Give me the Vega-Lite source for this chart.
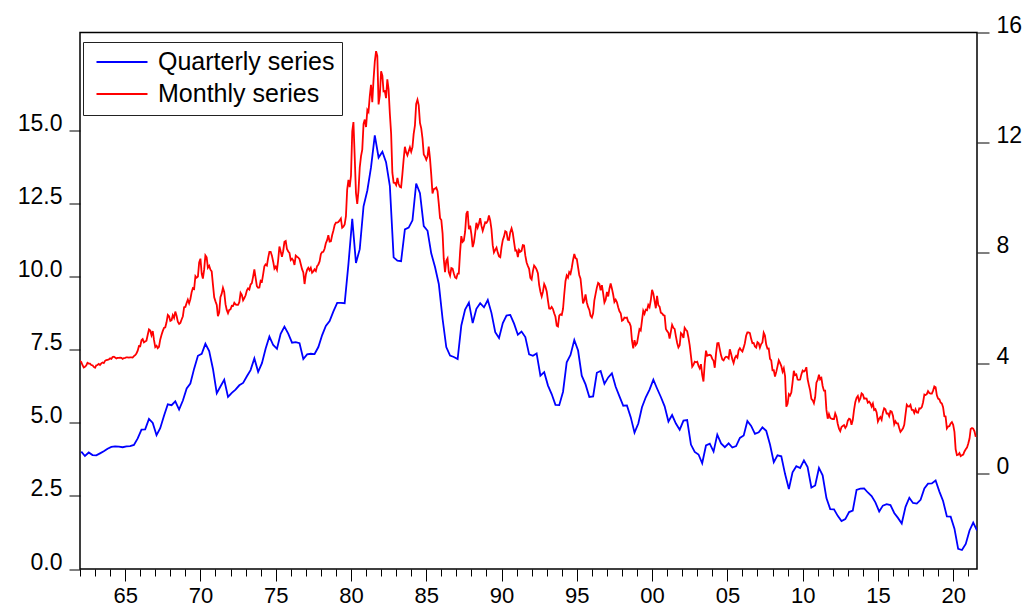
{
"$schema":"https://vega.github.io/schema/vega-lite/v6.json",
"width":897,"height":536.5,
"autosize":{"type":"none"},
"padding":{"left":80,"top":32.5,"right":50,"bottom":39},
"background":"white",
"config":{"view":{"stroke":"#000","strokeWidth":1.5},"font":"Liberation Sans",
"axis":{"labelFont":"Liberation Sans","labelColor":"#000","tickColor":"#000","domain":false,"grid":false,"labelFontSize":23,"title":null}},
"datasets":{
"quarterly":[
{"d":"1962-02","v":4.02},{"d":"1962-05","v":3.87},{"d":"1962-08","v":3.99},{"d":"1962-11","v":3.90},
{"d":"1963-02","v":3.89},{"d":"1963-05","v":3.96},{"d":"1963-08","v":4.03},{"d":"1963-11","v":4.12},
{"d":"1964-02","v":4.18},{"d":"1964-05","v":4.20},{"d":"1964-08","v":4.19},{"d":"1964-11","v":4.17},
{"d":"1965-02","v":4.20},{"d":"1965-05","v":4.21},{"d":"1965-08","v":4.25},{"d":"1965-11","v":4.47},
{"d":"1966-02","v":4.77},{"d":"1966-05","v":4.78},{"d":"1966-08","v":5.14},{"d":"1966-11","v":5.00},
{"d":"1967-02","v":4.58},{"d":"1967-05","v":4.82},{"d":"1967-08","v":5.25},{"d":"1967-11","v":5.64},
{"d":"1968-02","v":5.61},{"d":"1968-05","v":5.74},{"d":"1968-08","v":5.46},{"d":"1968-11","v":5.77},
{"d":"1969-02","v":6.18},{"d":"1969-05","v":6.35},{"d":"1969-08","v":6.86},{"d":"1969-11","v":7.30},
{"d":"1970-02","v":7.37},{"d":"1970-05","v":7.71},{"d":"1970-08","v":7.46},{"d":"1970-11","v":6.85},
{"d":"1971-02","v":6.02},{"d":"1971-05","v":6.25},{"d":"1971-08","v":6.48},{"d":"1971-11","v":5.89},
{"d":"1972-02","v":6.03},{"d":"1972-05","v":6.14},{"d":"1972-08","v":6.29},{"d":"1972-11","v":6.37},
{"d":"1973-02","v":6.60},{"d":"1973-05","v":6.81},{"d":"1973-08","v":7.21},{"d":"1973-11","v":6.75},
{"d":"1974-02","v":7.05},{"d":"1974-05","v":7.54},{"d":"1974-08","v":7.96},{"d":"1974-11","v":7.67},
{"d":"1975-02","v":7.54},{"d":"1975-05","v":8.05},{"d":"1975-08","v":8.30},{"d":"1975-11","v":8.06},
{"d":"1976-02","v":7.75},{"d":"1976-05","v":7.77},{"d":"1976-08","v":7.73},{"d":"1976-11","v":7.19},
{"d":"1977-02","v":7.35},{"d":"1977-05","v":7.37},{"d":"1977-08","v":7.36},{"d":"1977-11","v":7.60},
{"d":"1978-02","v":8.01},{"d":"1978-05","v":8.32},{"d":"1978-08","v":8.49},{"d":"1978-11","v":8.82},
{"d":"1979-02","v":9.11},{"d":"1979-05","v":9.11},{"d":"1979-08","v":9.10},{"d":"1979-11","v":10.45},
{"d":"1980-02","v":11.99},{"d":"1980-05","v":10.48},{"d":"1980-08","v":10.95},{"d":"1980-11","v":12.42},
{"d":"1981-02","v":12.96},{"d":"1981-05","v":13.75},{"d":"1981-08","v":14.85},{"d":"1981-11","v":14.09},
{"d":"1982-02","v":14.29},{"d":"1982-05","v":13.93},{"d":"1982-08","v":13.12},{"d":"1982-11","v":10.67},
{"d":"1983-02","v":10.56},{"d":"1983-05","v":10.54},{"d":"1983-08","v":11.63},{"d":"1983-11","v":11.69},
{"d":"1984-02","v":11.94},{"d":"1984-05","v":13.20},{"d":"1984-08","v":12.87},{"d":"1984-11","v":11.74},
{"d":"1985-02","v":11.58},{"d":"1985-05","v":10.81},{"d":"1985-08","v":10.34},{"d":"1985-11","v":9.76},
{"d":"1986-02","v":8.56},{"d":"1986-05","v":7.60},{"d":"1986-08","v":7.31},{"d":"1986-11","v":7.26},
{"d":"1987-02","v":7.19},{"d":"1987-05","v":8.34},{"d":"1987-08","v":8.88},{"d":"1987-11","v":9.12},
{"d":"1988-02","v":8.42},{"d":"1988-05","v":8.91},{"d":"1988-08","v":9.10},{"d":"1988-11","v":8.96},
{"d":"1989-02","v":9.21},{"d":"1989-05","v":8.77},{"d":"1989-08","v":8.11},{"d":"1989-11","v":7.91},
{"d":"1990-02","v":8.42},{"d":"1990-05","v":8.68},{"d":"1990-08","v":8.70},{"d":"1990-11","v":8.40},
{"d":"1991-02","v":8.02},{"d":"1991-05","v":8.13},{"d":"1991-08","v":7.94},{"d":"1991-11","v":7.35},
{"d":"1992-02","v":7.30},{"d":"1992-05","v":7.38},{"d":"1992-08","v":6.62},{"d":"1992-11","v":6.74},
{"d":"1993-02","v":6.28},{"d":"1993-05","v":5.99},{"d":"1993-08","v":5.62},{"d":"1993-11","v":5.61},
{"d":"1994-02","v":6.07},{"d":"1994-05","v":7.08},{"d":"1994-08","v":7.33},{"d":"1994-11","v":7.84},
{"d":"1995-02","v":7.48},{"d":"1995-05","v":6.62},{"d":"1995-08","v":6.32},{"d":"1995-11","v":5.89},
{"d":"1996-02","v":5.91},{"d":"1996-05","v":6.72},{"d":"1996-08","v":6.78},{"d":"1996-11","v":6.34},
{"d":"1997-02","v":6.56},{"d":"1997-05","v":6.70},{"d":"1997-08","v":6.24},{"d":"1997-11","v":5.91},
{"d":"1998-02","v":5.59},{"d":"1998-05","v":5.60},{"d":"1998-08","v":5.20},{"d":"1998-11","v":4.67},
{"d":"1999-02","v":4.98},{"d":"1999-05","v":5.54},{"d":"1999-08","v":5.88},{"d":"1999-11","v":6.14},
{"d":"2000-02","v":6.48},{"d":"2000-05","v":6.18},{"d":"2000-08","v":5.89},{"d":"2000-11","v":5.57},
{"d":"2001-02","v":5.05},{"d":"2001-05","v":5.27},{"d":"2001-08","v":4.98},{"d":"2001-11","v":4.77},
{"d":"2002-02","v":5.08},{"d":"2002-05","v":5.10},{"d":"2002-08","v":4.26},{"d":"2002-11","v":4.01},
{"d":"2003-02","v":3.92},{"d":"2003-05","v":3.62},{"d":"2003-08","v":4.23},{"d":"2003-11","v":4.29},
{"d":"2004-02","v":4.02},{"d":"2004-05","v":4.60},{"d":"2004-08","v":4.30},{"d":"2004-11","v":4.17},
{"d":"2005-02","v":4.30},{"d":"2005-05","v":4.16},{"d":"2005-08","v":4.21},{"d":"2005-11","v":4.49},
{"d":"2006-02","v":4.57},{"d":"2006-05","v":5.07},{"d":"2006-08","v":4.90},{"d":"2006-11","v":4.63},
{"d":"2007-02","v":4.68},{"d":"2007-05","v":4.85},{"d":"2007-08","v":4.73},{"d":"2007-11","v":4.26},
{"d":"2008-02","v":3.66},{"d":"2008-05","v":3.89},{"d":"2008-08","v":3.86},{"d":"2008-11","v":3.25},
{"d":"2009-02","v":2.74},{"d":"2009-05","v":3.31},{"d":"2009-08","v":3.52},{"d":"2009-11","v":3.46},
{"d":"2010-02","v":3.72},{"d":"2010-05","v":3.49},{"d":"2010-08","v":2.79},{"d":"2010-11","v":2.86},
{"d":"2011-02","v":3.46},{"d":"2011-05","v":3.21},{"d":"2011-08","v":2.43},{"d":"2011-11","v":2.05},
{"d":"2012-02","v":2.04},{"d":"2012-05","v":1.82},{"d":"2012-08","v":1.64},{"d":"2012-11","v":1.71},
{"d":"2013-02","v":1.95},{"d":"2013-05","v":2.00},{"d":"2013-08","v":2.71},{"d":"2013-11","v":2.75},
{"d":"2014-02","v":2.76},{"d":"2014-05","v":2.62},{"d":"2014-08","v":2.50},{"d":"2014-11","v":2.28},
{"d":"2015-02","v":1.97},{"d":"2015-05","v":2.17},{"d":"2015-08","v":2.22},{"d":"2015-11","v":2.19},
{"d":"2016-02","v":1.92},{"d":"2016-05","v":1.75},{"d":"2016-08","v":1.56},{"d":"2016-11","v":2.13},
{"d":"2017-02","v":2.44},{"d":"2017-05","v":2.26},{"d":"2017-08","v":2.24},{"d":"2017-11","v":2.37},
{"d":"2018-02","v":2.76},{"d":"2018-05","v":2.92},{"d":"2018-08","v":2.93},{"d":"2018-11","v":3.03},
{"d":"2019-02","v":2.65},{"d":"2019-05","v":2.33},{"d":"2019-08","v":1.80},{"d":"2019-11","v":1.79},
{"d":"2020-02","v":1.38},{"d":"2020-05","v":0.69},{"d":"2020-08","v":0.65},{"d":"2020-11","v":0.86},
{"d":"2021-02","v":1.32},{"d":"2021-05","v":1.59},{"d":"2021-08","v":1.32}
],
"monthly":[
{"d":"1962-01","v":4.08},{"d":"1962-02","v":4.04},{"d":"1962-03","v":3.93},{"d":"1962-04","v":3.84},{"d":"1962-05","v":3.87},{"d":"1962-06","v":3.91},{"d":"1962-07","v":4.01},{"d":"1962-08","v":3.98},{"d":"1962-09","v":3.98},{"d":"1962-10","v":3.93},{"d":"1962-11","v":3.92},{"d":"1962-12","v":3.86},
{"d":"1963-01","v":3.83},{"d":"1963-02","v":3.92},{"d":"1963-03","v":3.93},{"d":"1963-04","v":3.97},{"d":"1963-05","v":3.93},{"d":"1963-06","v":3.99},{"d":"1963-07","v":4.02},{"d":"1963-08","v":4.00},{"d":"1963-09","v":4.08},{"d":"1963-10","v":4.11},{"d":"1963-11","v":4.12},{"d":"1963-12","v":4.13},
{"d":"1964-01","v":4.17},{"d":"1964-02","v":4.15},{"d":"1964-03","v":4.22},{"d":"1964-04","v":4.23},{"d":"1964-05","v":4.20},{"d":"1964-06","v":4.17},{"d":"1964-07","v":4.19},{"d":"1964-08","v":4.19},{"d":"1964-09","v":4.20},{"d":"1964-10","v":4.19},{"d":"1964-11","v":4.15},{"d":"1964-12","v":4.18},
{"d":"1965-01","v":4.19},{"d":"1965-02","v":4.21},{"d":"1965-03","v":4.21},{"d":"1965-04","v":4.20},{"d":"1965-05","v":4.21},{"d":"1965-06","v":4.21},{"d":"1965-07","v":4.20},{"d":"1965-08","v":4.25},{"d":"1965-09","v":4.29},{"d":"1965-10","v":4.35},{"d":"1965-11","v":4.45},{"d":"1965-12","v":4.62},
{"d":"1966-01","v":4.61},{"d":"1966-02","v":4.83},{"d":"1966-03","v":4.87},{"d":"1966-04","v":4.75},{"d":"1966-05","v":4.78},{"d":"1966-06","v":4.81},{"d":"1966-07","v":5.02},{"d":"1966-08","v":5.22},{"d":"1966-09","v":5.18},{"d":"1966-10","v":5.01},{"d":"1966-11","v":5.16},{"d":"1966-12","v":4.84},
{"d":"1967-01","v":4.58},{"d":"1967-02","v":4.63},{"d":"1967-03","v":4.54},{"d":"1967-04","v":4.59},{"d":"1967-05","v":4.85},{"d":"1967-06","v":5.02},{"d":"1967-07","v":5.16},{"d":"1967-08","v":5.28},{"d":"1967-09","v":5.30},{"d":"1967-10","v":5.48},{"d":"1967-11","v":5.75},{"d":"1967-12","v":5.70},
{"d":"1968-01","v":5.53},{"d":"1968-02","v":5.56},{"d":"1968-03","v":5.74},{"d":"1968-04","v":5.64},{"d":"1968-05","v":5.87},{"d":"1968-06","v":5.72},{"d":"1968-07","v":5.50},{"d":"1968-08","v":5.42},{"d":"1968-09","v":5.46},{"d":"1968-10","v":5.58},{"d":"1968-11","v":5.70},{"d":"1968-12","v":6.03},
{"d":"1969-01","v":6.04},{"d":"1969-02","v":6.19},{"d":"1969-03","v":6.30},{"d":"1969-04","v":6.17},{"d":"1969-05","v":6.32},{"d":"1969-06","v":6.57},{"d":"1969-07","v":6.72},{"d":"1969-08","v":6.69},{"d":"1969-09","v":7.16},{"d":"1969-10","v":7.10},{"d":"1969-11","v":7.14},{"d":"1969-12","v":7.65},
{"d":"1970-01","v":7.79},{"d":"1970-02","v":7.24},{"d":"1970-03","v":7.07},{"d":"1970-04","v":7.39},{"d":"1970-05","v":7.91},{"d":"1970-06","v":7.84},{"d":"1970-07","v":7.46},{"d":"1970-08","v":7.53},{"d":"1970-09","v":7.39},{"d":"1970-10","v":7.33},{"d":"1970-11","v":6.84},{"d":"1970-12","v":6.39},
{"d":"1971-01","v":6.24},{"d":"1971-02","v":6.11},{"d":"1971-03","v":5.70},{"d":"1971-04","v":5.83},{"d":"1971-05","v":6.39},{"d":"1971-06","v":6.52},{"d":"1971-07","v":6.73},{"d":"1971-08","v":6.58},{"d":"1971-09","v":6.14},{"d":"1971-10","v":5.93},{"d":"1971-11","v":5.81},{"d":"1971-12","v":5.93},
{"d":"1972-01","v":5.95},{"d":"1972-02","v":6.08},{"d":"1972-03","v":6.07},{"d":"1972-04","v":6.19},{"d":"1972-05","v":6.13},{"d":"1972-06","v":6.11},{"d":"1972-07","v":6.11},{"d":"1972-08","v":6.21},{"d":"1972-09","v":6.55},{"d":"1972-10","v":6.48},{"d":"1972-11","v":6.28},{"d":"1972-12","v":6.36},
{"d":"1973-01","v":6.46},{"d":"1973-02","v":6.64},{"d":"1973-03","v":6.71},{"d":"1973-04","v":6.67},{"d":"1973-05","v":6.85},{"d":"1973-06","v":6.90},{"d":"1973-07","v":7.13},{"d":"1973-08","v":7.40},{"d":"1973-09","v":7.09},{"d":"1973-10","v":6.79},{"d":"1973-11","v":6.73},{"d":"1973-12","v":6.74},
{"d":"1974-01","v":6.99},{"d":"1974-02","v":6.96},{"d":"1974-03","v":7.21},{"d":"1974-04","v":7.51},{"d":"1974-05","v":7.58},{"d":"1974-06","v":7.54},{"d":"1974-07","v":7.81},{"d":"1974-08","v":8.04},{"d":"1974-09","v":8.04},{"d":"1974-10","v":7.90},{"d":"1974-11","v":7.68},{"d":"1974-12","v":7.43},
{"d":"1975-01","v":7.50},{"d":"1975-02","v":7.39},{"d":"1975-03","v":7.73},{"d":"1975-04","v":8.23},{"d":"1975-05","v":8.06},{"d":"1975-06","v":7.86},{"d":"1975-07","v":8.06},{"d":"1975-08","v":8.40},{"d":"1975-09","v":8.43},{"d":"1975-10","v":8.14},{"d":"1975-11","v":8.05},{"d":"1975-12","v":8.00},
{"d":"1976-01","v":7.74},{"d":"1976-02","v":7.79},{"d":"1976-03","v":7.73},{"d":"1976-04","v":7.56},{"d":"1976-05","v":7.90},{"d":"1976-06","v":7.86},{"d":"1976-07","v":7.83},{"d":"1976-08","v":7.77},{"d":"1976-09","v":7.59},{"d":"1976-10","v":7.41},{"d":"1976-11","v":7.29},{"d":"1976-12","v":6.87},
{"d":"1977-01","v":7.21},{"d":"1977-02","v":7.39},{"d":"1977-03","v":7.46},{"d":"1977-04","v":7.37},{"d":"1977-05","v":7.46},{"d":"1977-06","v":7.28},{"d":"1977-07","v":7.33},{"d":"1977-08","v":7.40},{"d":"1977-09","v":7.34},{"d":"1977-10","v":7.52},{"d":"1977-11","v":7.58},{"d":"1977-12","v":7.69},
{"d":"1978-01","v":7.96},{"d":"1978-02","v":8.03},{"d":"1978-03","v":8.04},{"d":"1978-04","v":8.15},{"d":"1978-05","v":8.35},{"d":"1978-06","v":8.46},{"d":"1978-07","v":8.64},{"d":"1978-08","v":8.41},{"d":"1978-09","v":8.42},{"d":"1978-10","v":8.64},{"d":"1978-11","v":8.81},{"d":"1978-12","v":9.01},
{"d":"1979-01","v":9.10},{"d":"1979-02","v":9.10},{"d":"1979-03","v":9.12},{"d":"1979-04","v":9.18},{"d":"1979-05","v":9.25},{"d":"1979-06","v":8.91},{"d":"1979-07","v":8.95},{"d":"1979-08","v":9.03},{"d":"1979-09","v":9.33},{"d":"1979-10","v":10.30},{"d":"1979-11","v":10.65},{"d":"1979-12","v":10.39},
{"d":"1980-01","v":10.80},{"d":"1980-02","v":12.41},{"d":"1980-03","v":12.75},{"d":"1980-04","v":11.47},{"d":"1980-05","v":10.18},{"d":"1980-06","v":9.78},{"d":"1980-07","v":10.25},{"d":"1980-08","v":11.10},{"d":"1980-09","v":11.51},{"d":"1980-10","v":11.75},{"d":"1980-11","v":12.68},{"d":"1980-12","v":12.84},
{"d":"1981-01","v":12.57},{"d":"1981-02","v":13.19},{"d":"1981-03","v":13.12},{"d":"1981-04","v":13.68},{"d":"1981-05","v":14.10},{"d":"1981-06","v":13.47},{"d":"1981-07","v":14.28},{"d":"1981-08","v":14.94},{"d":"1981-09","v":15.32},{"d":"1981-10","v":15.15},{"d":"1981-11","v":13.39},{"d":"1981-12","v":13.72},
{"d":"1982-01","v":14.59},{"d":"1982-02","v":14.43},{"d":"1982-03","v":13.86},{"d":"1982-04","v":13.87},{"d":"1982-05","v":13.62},{"d":"1982-06","v":14.30},{"d":"1982-07","v":13.95},{"d":"1982-08","v":13.06},{"d":"1982-09","v":12.34},{"d":"1982-10","v":10.91},{"d":"1982-11","v":10.55},{"d":"1982-12","v":10.54},
{"d":"1983-01","v":10.46},{"d":"1983-02","v":10.72},{"d":"1983-03","v":10.51},{"d":"1983-04","v":10.40},{"d":"1983-05","v":10.38},{"d":"1983-06","v":10.85},{"d":"1983-07","v":11.38},{"d":"1983-08","v":11.85},{"d":"1983-09","v":11.65},{"d":"1983-10","v":11.54},{"d":"1983-11","v":11.69},{"d":"1983-12","v":11.83},
{"d":"1984-01","v":11.67},{"d":"1984-02","v":11.84},{"d":"1984-03","v":12.32},{"d":"1984-04","v":12.63},{"d":"1984-05","v":13.41},{"d":"1984-06","v":13.56},{"d":"1984-07","v":13.36},{"d":"1984-08","v":12.72},{"d":"1984-09","v":12.52},{"d":"1984-10","v":12.16},{"d":"1984-11","v":11.57},{"d":"1984-12","v":11.50},
{"d":"1985-01","v":11.38},{"d":"1985-02","v":11.51},{"d":"1985-03","v":11.86},{"d":"1985-04","v":11.43},{"d":"1985-05","v":10.85},{"d":"1985-06","v":10.16},{"d":"1985-07","v":10.31},{"d":"1985-08","v":10.33},{"d":"1985-09","v":10.37},{"d":"1985-10","v":10.24},{"d":"1985-11","v":9.78},{"d":"1985-12","v":9.26},
{"d":"1986-01","v":9.19},{"d":"1986-02","v":8.70},{"d":"1986-03","v":7.78},{"d":"1986-04","v":7.30},{"d":"1986-05","v":7.71},{"d":"1986-06","v":7.80},{"d":"1986-07","v":7.30},{"d":"1986-08","v":7.17},{"d":"1986-09","v":7.45},{"d":"1986-10","v":7.43},{"d":"1986-11","v":7.25},{"d":"1986-12","v":7.11},
{"d":"1987-01","v":7.08},{"d":"1987-02","v":7.25},{"d":"1987-03","v":7.25},{"d":"1987-04","v":8.02},{"d":"1987-05","v":8.61},{"d":"1987-06","v":8.40},{"d":"1987-07","v":8.45},{"d":"1987-08","v":8.76},{"d":"1987-09","v":9.42},{"d":"1987-10","v":9.52},{"d":"1987-11","v":8.86},{"d":"1987-12","v":8.99},
{"d":"1988-01","v":8.67},{"d":"1988-02","v":8.21},{"d":"1988-03","v":8.37},{"d":"1988-04","v":8.72},{"d":"1988-05","v":9.09},{"d":"1988-06","v":8.92},{"d":"1988-07","v":9.06},{"d":"1988-08","v":9.26},{"d":"1988-09","v":8.98},{"d":"1988-10","v":8.80},{"d":"1988-11","v":8.96},{"d":"1988-12","v":9.11},
{"d":"1989-01","v":9.09},{"d":"1989-02","v":9.17},{"d":"1989-03","v":9.36},{"d":"1989-04","v":9.18},{"d":"1989-05","v":8.86},{"d":"1989-06","v":8.28},{"d":"1989-07","v":8.02},{"d":"1989-08","v":8.11},{"d":"1989-09","v":8.19},{"d":"1989-10","v":8.01},{"d":"1989-11","v":7.87},{"d":"1989-12","v":7.84},
{"d":"1990-01","v":8.21},{"d":"1990-02","v":8.47},{"d":"1990-03","v":8.59},{"d":"1990-04","v":8.79},{"d":"1990-05","v":8.76},{"d":"1990-06","v":8.48},{"d":"1990-07","v":8.47},{"d":"1990-08","v":8.75},{"d":"1990-09","v":8.89},{"d":"1990-10","v":8.72},{"d":"1990-11","v":8.39},{"d":"1990-12","v":8.08},
{"d":"1991-01","v":8.09},{"d":"1991-02","v":7.85},{"d":"1991-03","v":8.11},{"d":"1991-04","v":8.04},{"d":"1991-05","v":8.07},{"d":"1991-06","v":8.28},{"d":"1991-07","v":8.27},{"d":"1991-08","v":7.90},{"d":"1991-09","v":7.65},{"d":"1991-10","v":7.53},{"d":"1991-11","v":7.42},{"d":"1991-12","v":7.09},
{"d":"1992-01","v":7.03},{"d":"1992-02","v":7.34},{"d":"1992-03","v":7.54},{"d":"1992-04","v":7.48},{"d":"1992-05","v":7.39},{"d":"1992-06","v":7.26},{"d":"1992-07","v":6.84},{"d":"1992-08","v":6.59},{"d":"1992-09","v":6.42},{"d":"1992-10","v":6.59},{"d":"1992-11","v":6.87},{"d":"1992-12","v":6.77},
{"d":"1993-01","v":6.60},{"d":"1993-02","v":6.26},{"d":"1993-03","v":5.98},{"d":"1993-04","v":5.97},{"d":"1993-05","v":6.04},{"d":"1993-06","v":5.96},{"d":"1993-07","v":5.81},{"d":"1993-08","v":5.68},{"d":"1993-09","v":5.36},{"d":"1993-10","v":5.33},{"d":"1993-11","v":5.72},{"d":"1993-12","v":5.77},
{"d":"1994-01","v":5.75},{"d":"1994-02","v":5.97},{"d":"1994-03","v":6.48},{"d":"1994-04","v":6.97},{"d":"1994-05","v":7.18},{"d":"1994-06","v":7.10},{"d":"1994-07","v":7.30},{"d":"1994-08","v":7.24},{"d":"1994-09","v":7.46},{"d":"1994-10","v":7.74},{"d":"1994-11","v":7.96},{"d":"1994-12","v":7.81},
{"d":"1995-01","v":7.78},{"d":"1995-02","v":7.47},{"d":"1995-03","v":7.20},{"d":"1995-04","v":7.06},{"d":"1995-05","v":6.63},{"d":"1995-06","v":6.17},{"d":"1995-07","v":6.28},{"d":"1995-08","v":6.49},{"d":"1995-09","v":6.20},{"d":"1995-10","v":6.04},{"d":"1995-11","v":5.93},{"d":"1995-12","v":5.71},
{"d":"1996-01","v":5.65},{"d":"1996-02","v":5.81},{"d":"1996-03","v":6.27},{"d":"1996-04","v":6.51},{"d":"1996-05","v":6.74},{"d":"1996-06","v":6.91},{"d":"1996-07","v":6.87},{"d":"1996-08","v":6.64},{"d":"1996-09","v":6.83},{"d":"1996-10","v":6.53},{"d":"1996-11","v":6.20},{"d":"1996-12","v":6.30},
{"d":"1997-01","v":6.58},{"d":"1997-02","v":6.42},{"d":"1997-03","v":6.69},{"d":"1997-04","v":6.89},{"d":"1997-05","v":6.71},{"d":"1997-06","v":6.49},{"d":"1997-07","v":6.22},{"d":"1997-08","v":6.30},{"d":"1997-09","v":6.21},{"d":"1997-10","v":6.03},{"d":"1997-11","v":5.88},{"d":"1997-12","v":5.81},
{"d":"1998-01","v":5.54},{"d":"1998-02","v":5.57},{"d":"1998-03","v":5.65},{"d":"1998-04","v":5.64},{"d":"1998-05","v":5.65},{"d":"1998-06","v":5.50},{"d":"1998-07","v":5.46},{"d":"1998-08","v":5.34},{"d":"1998-09","v":4.81},{"d":"1998-10","v":4.53},{"d":"1998-11","v":4.83},{"d":"1998-12","v":4.65},
{"d":"1999-01","v":4.72},{"d":"1999-02","v":5.00},{"d":"1999-03","v":5.23},{"d":"1999-04","v":5.18},{"d":"1999-05","v":5.54},{"d":"1999-06","v":5.90},{"d":"1999-07","v":5.79},{"d":"1999-08","v":5.94},{"d":"1999-09","v":5.92},{"d":"1999-10","v":6.11},{"d":"1999-11","v":6.03},{"d":"1999-12","v":6.28},
{"d":"2000-01","v":6.66},{"d":"2000-02","v":6.52},{"d":"2000-03","v":6.26},{"d":"2000-04","v":5.99},{"d":"2000-05","v":6.44},{"d":"2000-06","v":6.10},{"d":"2000-07","v":6.05},{"d":"2000-08","v":5.83},{"d":"2000-09","v":5.80},{"d":"2000-10","v":5.74},{"d":"2000-11","v":5.72},{"d":"2000-12","v":5.24},
{"d":"2001-01","v":5.16},{"d":"2001-02","v":5.10},{"d":"2001-03","v":4.89},{"d":"2001-04","v":5.14},{"d":"2001-05","v":5.39},{"d":"2001-06","v":5.28},{"d":"2001-07","v":5.24},{"d":"2001-08","v":4.97},{"d":"2001-09","v":4.73},{"d":"2001-10","v":4.57},{"d":"2001-11","v":4.65},{"d":"2001-12","v":5.09},
{"d":"2002-01","v":5.04},{"d":"2002-02","v":4.91},{"d":"2002-03","v":5.28},{"d":"2002-04","v":5.21},{"d":"2002-05","v":5.16},{"d":"2002-06","v":4.93},{"d":"2002-07","v":4.65},{"d":"2002-08","v":4.26},{"d":"2002-09","v":3.87},{"d":"2002-10","v":3.94},{"d":"2002-11","v":4.05},{"d":"2002-12","v":4.03},
{"d":"2003-01","v":4.05},{"d":"2003-02","v":3.90},{"d":"2003-03","v":3.81},{"d":"2003-04","v":3.96},{"d":"2003-05","v":3.57},{"d":"2003-06","v":3.33},{"d":"2003-07","v":3.98},{"d":"2003-08","v":4.45},{"d":"2003-09","v":4.27},{"d":"2003-10","v":4.29},{"d":"2003-11","v":4.30},{"d":"2003-12","v":4.27},
{"d":"2004-01","v":4.15},{"d":"2004-02","v":4.08},{"d":"2004-03","v":3.83},{"d":"2004-04","v":4.35},{"d":"2004-05","v":4.72},{"d":"2004-06","v":4.73},{"d":"2004-07","v":4.50},{"d":"2004-08","v":4.28},{"d":"2004-09","v":4.13},{"d":"2004-10","v":4.10},{"d":"2004-11","v":4.19},{"d":"2004-12","v":4.23},
{"d":"2005-01","v":4.22},{"d":"2005-02","v":4.17},{"d":"2005-03","v":4.50},{"d":"2005-04","v":4.34},{"d":"2005-05","v":4.14},{"d":"2005-06","v":4.00},{"d":"2005-07","v":4.18},{"d":"2005-08","v":4.26},{"d":"2005-09","v":4.20},{"d":"2005-10","v":4.46},{"d":"2005-11","v":4.54},{"d":"2005-12","v":4.47},
{"d":"2006-01","v":4.42},{"d":"2006-02","v":4.57},{"d":"2006-03","v":4.72},{"d":"2006-04","v":4.99},{"d":"2006-05","v":5.11},{"d":"2006-06","v":5.11},{"d":"2006-07","v":5.09},{"d":"2006-08","v":4.88},{"d":"2006-09","v":4.72},{"d":"2006-10","v":4.73},{"d":"2006-11","v":4.60},{"d":"2006-12","v":4.56},
{"d":"2007-01","v":4.76},{"d":"2007-02","v":4.72},{"d":"2007-03","v":4.56},{"d":"2007-04","v":4.69},{"d":"2007-05","v":4.75},{"d":"2007-06","v":5.10},{"d":"2007-07","v":5.00},{"d":"2007-08","v":4.67},{"d":"2007-09","v":4.52},{"d":"2007-10","v":4.53},{"d":"2007-11","v":4.15},{"d":"2007-12","v":4.10},
{"d":"2008-01","v":3.74},{"d":"2008-02","v":3.74},{"d":"2008-03","v":3.51},{"d":"2008-04","v":3.68},{"d":"2008-05","v":3.88},{"d":"2008-06","v":4.10},{"d":"2008-07","v":4.01},{"d":"2008-08","v":3.89},{"d":"2008-09","v":3.69},{"d":"2008-10","v":3.81},{"d":"2008-11","v":3.53},{"d":"2008-12","v":2.42},
{"d":"2009-01","v":2.52},{"d":"2009-02","v":2.87},{"d":"2009-03","v":2.82},{"d":"2009-04","v":2.93},{"d":"2009-05","v":3.29},{"d":"2009-06","v":3.72},{"d":"2009-07","v":3.56},{"d":"2009-08","v":3.59},{"d":"2009-09","v":3.40},{"d":"2009-10","v":3.39},{"d":"2009-11","v":3.40},{"d":"2009-12","v":3.59},
{"d":"2010-01","v":3.73},{"d":"2010-02","v":3.69},{"d":"2010-03","v":3.73},{"d":"2010-04","v":3.85},{"d":"2010-05","v":3.42},{"d":"2010-06","v":3.20},{"d":"2010-07","v":3.01},{"d":"2010-08","v":2.70},{"d":"2010-09","v":2.65},{"d":"2010-10","v":2.54},{"d":"2010-11","v":2.76},{"d":"2010-12","v":3.29},
{"d":"2011-01","v":3.39},{"d":"2011-02","v":3.58},{"d":"2011-03","v":3.41},{"d":"2011-04","v":3.46},{"d":"2011-05","v":3.17},{"d":"2011-06","v":3.00},{"d":"2011-07","v":3.00},{"d":"2011-08","v":2.30},{"d":"2011-09","v":1.98},{"d":"2011-10","v":2.15},{"d":"2011-11","v":2.01},{"d":"2011-12","v":1.98},
{"d":"2012-01","v":1.97},{"d":"2012-02","v":1.97},{"d":"2012-03","v":2.17},{"d":"2012-04","v":2.05},{"d":"2012-05","v":1.80},{"d":"2012-06","v":1.62},{"d":"2012-07","v":1.53},{"d":"2012-08","v":1.68},{"d":"2012-09","v":1.72},{"d":"2012-10","v":1.75},{"d":"2012-11","v":1.65},{"d":"2012-12","v":1.72},
{"d":"2013-01","v":1.91},{"d":"2013-02","v":1.98},{"d":"2013-03","v":1.96},{"d":"2013-04","v":1.76},{"d":"2013-05","v":1.93},{"d":"2013-06","v":2.30},{"d":"2013-07","v":2.58},{"d":"2013-08","v":2.74},{"d":"2013-09","v":2.81},{"d":"2013-10","v":2.62},{"d":"2013-11","v":2.72},{"d":"2013-12","v":2.90},
{"d":"2014-01","v":2.86},{"d":"2014-02","v":2.71},{"d":"2014-03","v":2.72},{"d":"2014-04","v":2.71},{"d":"2014-05","v":2.56},{"d":"2014-06","v":2.60},{"d":"2014-07","v":2.54},{"d":"2014-08","v":2.42},{"d":"2014-09","v":2.53},{"d":"2014-10","v":2.30},{"d":"2014-11","v":2.33},{"d":"2014-12","v":2.21},
{"d":"2015-01","v":1.88},{"d":"2015-02","v":1.98},{"d":"2015-03","v":2.04},{"d":"2015-04","v":1.94},{"d":"2015-05","v":2.20},{"d":"2015-06","v":2.36},{"d":"2015-07","v":2.32},{"d":"2015-08","v":2.17},{"d":"2015-09","v":2.17},{"d":"2015-10","v":2.07},{"d":"2015-11","v":2.26},{"d":"2015-12","v":2.24},
{"d":"2016-01","v":2.09},{"d":"2016-02","v":1.78},{"d":"2016-03","v":1.89},{"d":"2016-04","v":1.81},{"d":"2016-05","v":1.81},{"d":"2016-06","v":1.64},{"d":"2016-07","v":1.50},{"d":"2016-08","v":1.56},{"d":"2016-09","v":1.63},{"d":"2016-10","v":1.76},{"d":"2016-11","v":2.14},{"d":"2016-12","v":2.49},
{"d":"2017-01","v":2.43},{"d":"2017-02","v":2.42},{"d":"2017-03","v":2.48},{"d":"2017-04","v":2.30},{"d":"2017-05","v":2.30},{"d":"2017-06","v":2.19},{"d":"2017-07","v":2.32},{"d":"2017-08","v":2.21},{"d":"2017-09","v":2.20},{"d":"2017-10","v":2.36},{"d":"2017-11","v":2.35},{"d":"2017-12","v":2.40},
{"d":"2018-01","v":2.58},{"d":"2018-02","v":2.86},{"d":"2018-03","v":2.84},{"d":"2018-04","v":2.87},{"d":"2018-05","v":2.98},{"d":"2018-06","v":2.91},{"d":"2018-07","v":2.89},{"d":"2018-08","v":2.89},{"d":"2018-09","v":3.00},{"d":"2018-10","v":3.15},{"d":"2018-11","v":3.12},{"d":"2018-12","v":2.83},
{"d":"2019-01","v":2.71},{"d":"2019-02","v":2.68},{"d":"2019-03","v":2.57},{"d":"2019-04","v":2.53},{"d":"2019-05","v":2.40},{"d":"2019-06","v":2.07},{"d":"2019-07","v":2.06},{"d":"2019-08","v":1.63},{"d":"2019-09","v":1.70},{"d":"2019-10","v":1.71},{"d":"2019-11","v":1.81},{"d":"2019-12","v":1.86},
{"d":"2020-01","v":1.76},{"d":"2020-02","v":1.50},{"d":"2020-03","v":0.87},{"d":"2020-04","v":0.66},{"d":"2020-05","v":0.67},{"d":"2020-06","v":0.73},{"d":"2020-07","v":0.62},{"d":"2020-08","v":0.65},{"d":"2020-09","v":0.68},{"d":"2020-10","v":0.79},{"d":"2020-11","v":0.87},{"d":"2020-12","v":0.93},
{"d":"2021-01","v":1.08},{"d":"2021-02","v":1.26},{"d":"2021-03","v":1.61},{"d":"2021-04","v":1.64},{"d":"2021-05","v":1.62},{"d":"2021-06","v":1.52},{"d":"2021-07","v":1.32}
]},
"layer":[
{"data":{"name":"quarterly"},
 "mark":{"type":"line","strokeWidth":1.8,"clip":true},
 "encoding":{
  "x":{"field":"d","type":"temporal",
   "scale":{"type":"utc","domain":[{"year":1962,"month":1,"date":1,"utc":true},{"year":2021,"month":8,"date":1,"utc":true}]},
   "axis":{"orient":"bottom","tickCount":{"interval":"year","step":1},
    "labelExpr":"utcyear(datum.value) % 5 === 0 ? utcFormat(datum.value, '%y') : ''",
    "labelOverlap":false,"labelFlush":false,"labelFontSize":22,
    "tickSize":{"condition":{"test":"utcyear(datum.value) % 5 === 0","value":12},"value":7},
    "labelPadding":4}},
  "y":{"field":"v","type":"quantitative","scale":{"domain":[0,18.37],"nice":false,"zero":false},
   "axis":{"orient":"left","values":[0,2.5,5,7.5,10,12.5,15],"format":".1f","tickSize":11,"labelPadding":7,"labelBaseline":"alphabetic"}},
  "color":{"datum":"Quarterly series","type":"nominal",
   "scale":{"domain":["Quarterly series","Monthly series"],"range":["#0000ff","#ff0000"]},
   "legend":{"orient":"none","legendX":3,"legendY":9.5,"title":null,"direction":"vertical",
    "symbolType":"M-0.65,0H4.45","symbolSize":400,"symbolStrokeWidth":1.8,
    "labelFontSize":25,"labelFont":"Liberation Sans","labelColor":"#000","labelLimit":400,
    "strokeColor":"#222","fillColor":"#fff","padding":7.5,"rowPadding":6,"labelOffset":42.5}}
 }},
{"data":{"name":"monthly"},
 "mark":{"type":"line","strokeWidth":1.8,"clip":true},
 "encoding":{
  "x":{"field":"d","type":"temporal"},
  "y":{"field":"v","type":"quantitative","scale":{"domain":[-3.475,16],"nice":false,"zero":false},
   "axis":{"orient":"right","values":[0,4,8,12,16],"format":"d","tickSize":12,"labelPadding":7,"labelBaseline":"alphabetic"}},
  "color":{"datum":"Monthly series","type":"nominal"}
 }}
],
"resolve":{"scale":{"y":"independent"}}
}
